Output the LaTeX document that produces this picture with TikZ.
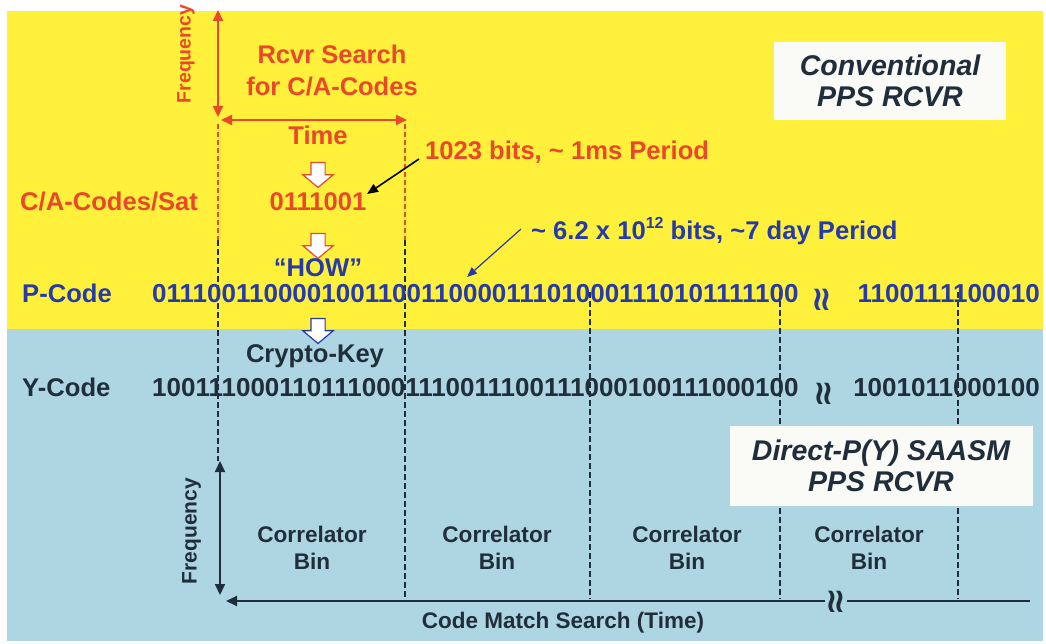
\documentclass[tikz,border=0pt]{standalone}
\usepackage{fontspec}
\setmainfont{Liberation Sans}
\newfontfamily\djv{DejaVu Sans}
\usetikzlibrary{arrows.meta,shapes.arrows}
\definecolor{bgyellow}{RGB}{255,240,60}
\definecolor{bgblue}{RGB}{174,213,226}
\definecolor{redc}{RGB}{234,72,42}
\definecolor{bluec}{RGB}{38,58,170}
\definecolor{darkc}{RGB}{32,46,60}
\definecolor{boxc}{RGB}{250,250,246}
\newcommand\sqq{≀\kern-0.14em≀}
\begin{document}
\begin{tikzpicture}[x=1pt,y=-1pt,
  txt/.style={inner sep=0pt, text height=0.72em, text depth=0pt, font=\bfseries\fontsize{25.6}{30}\selectfont},
  redtxt/.style={txt,text=redc},
  bluetxt/.style={txt,text=bluec},
  darktxt/.style={txt,text=darkc},
  codetxt/.style={inner sep=0pt, text height=0.72em, text depth=0pt, font=\bfseries\fontsize{26}{30}\selectfont},
  multitxt/.style={inner sep=0pt, align=center},
  bintxt/.style={multitxt, text=darkc, font=\bfseries\fontsize{22.6}{27}\selectfont},
  boxnode/.style={fill=boxc, inner sep=0pt, align=center, text=darkc, font=\bfseries\itshape\fontsize{28.5}{31}\selectfont},
  harrow/.style={single arrow, shape border rotate=270, fill=white, line width=1.2pt,
    inner sep=6.5pt, minimum height=25pt, single arrow head extend=8pt, single arrow tip angle=100},
  rdash/.style={draw=redc, line width=1.3pt, dash pattern=on 5pt off 3pt},
  ddash/.style={draw=darkc, line width=1.3pt, dash pattern=on 6pt off 3pt},
  raxis/.style={draw=redc, line width=2pt},
  daxis/.style={draw=darkc, line width=2pt},
  tip/.tip={Triangle[length=11pt,width=10pt]},
  squig/.style={inner sep=0pt, font=\djv\bfseries\fontsize{34}{34}\selectfont}
]
\useasboundingbox (0,0) rectangle (1046,644);
\fill[white] (0,0) rectangle (1046,644);
\fill[bgyellow] (7,11) rectangle (1043,329);
\fill[bgblue] (7,329) rectangle (1043,641);

% coordinates
\coordinate (rTop) at (218,10);
\coordinate (rOv) at (218,117);
\coordinate (rOh) at (221,120);
\coordinate (rRight) at (407,120);
\coordinate (c1t) at (218,124);
\coordinate (c1m) at (218,240);
\coordinate (c1b) at (218,461);
\coordinate (c2t) at (405,124);
\coordinate (c2m) at (405,240);
\coordinate (c2b) at (405,599);
\coordinate (c3t) at (590,292);
\coordinate (c3b) at (590,599);
\coordinate (c4t) at (780,292);
\coordinate (c4b) at (780,599);
\coordinate (c5t) at (958,292);
\coordinate (c5b) at (958,599);
\coordinate (bTop) at (220,461);
\coordinate (bBot) at (220,595);
\coordinate (bLeft) at (226,601);
\coordinate (bRight) at (1030,601);

% dashed column lines
\draw[rdash] (c1t) -- (c1m);
\draw[rdash] (c2t) -- (c2m);
\draw[ddash] (c1m) -- (c1b);
\draw[ddash] (c2m) -- (c2b);
\draw[ddash] (c3t) -- (c3b);
\draw[ddash] (c4t) -- (c4b);
\draw[ddash] (c5t) -- (c5b);

% red axes
\draw[raxis,{tip}-{tip}] (rOv) -- (rTop);
\draw[raxis,{tip}-{tip}] (rOh) -- (rRight);
\node[redtxt, rotate=90, font=\bfseries\fontsize{19.5}{20}\selectfont] (freq1) at (187,54) {Frequency};
\node[multitxt, text=redc, font=\bfseries\fontsize{25.5}{32}\selectfont] (rcvr) at (332,71) {Rcvr Search\\for C/A-Codes};

% upper chain
\node[redtxt] (time) at (318,141) {Time};
\node[harrow, draw=redc] (ar1) at (318,172) {};
\node[redtxt] (ca) at (318,207) {0111001};
\node[redtxt, anchor=west] (calab) at (20,207) {C/A-Codes/Sat};
\node[harrow, draw=redc] (ar2) at (318,243) {};
\node[bluetxt] (how) at (318,273) {“HOW”};
\node[harrow, draw=bluec] (ar3) at (318,328) {};
\node[darktxt] (crypto) at (315,359) {Crypto-Key};

% annotations
\node[redtxt, anchor=west] (bits1) at (425,156) {1023 bits, \textasciitilde{} 1ms Period};
\coordinate (a1s) at (419,159);
\coordinate (a1e) at (367,194);
\draw[draw=black, line width=1.6pt, -{Triangle[length=11pt,width=9pt]}] (a1s) -- (a1e);
\node[bluetxt, anchor=west] (bits2) at (531,236) {\textasciitilde{} 6.2 x 10\raisebox{0.42em}{\fontsize{16}{16}\selectfont 12} bits, \textasciitilde7 day Period};
\coordinate (a2s) at (521,229);
\coordinate (a2e) at (467,277);
\draw[draw=bluec, line width=1.2pt, -{Triangle[length=10pt,width=8pt]}] (a2s) -- (a2e);

% code rows
\node[bluetxt, anchor=west] (plab) at (22,299) {P-Code};
\node[codetxt, text=bluec, anchor=west] (pcode) at (152,299) {0111001100001001100110000111010001110101111100};
\node[squig, text=bluec] (psq) at (822,300) {\sqq};
\node[codetxt, text=bluec, anchor=east] (pcode2) at (1040,299) {1100111100010};
\node[darktxt, anchor=west] (ylab) at (22,393) {Y-Code};
\node[codetxt, text=darkc, anchor=west] (ycode) at (152,393) {1001110001101110001110011100111000100111000100};
\node[squig, text=darkc] (ysq) at (824,394) {\sqq};
\node[codetxt, text=darkc, anchor=east] (ycode2) at (1040,393) {1001011000100};

% boxes
\node[boxnode, minimum width=232pt, minimum height=78pt] (conv) at (890,81) {Conventional\\PPS RCVR};
\node[boxnode, minimum width=303pt, minimum height=80pt] (saasm) at (881,466) {Direct-P(Y) SAASM\\PPS RCVR};

% bottom axes
\draw[daxis,{tip}-{tip}] (bBot) -- (bTop);
\draw[daxis,{tip}-] (bLeft) -- (bRight);
\node[squig, text=darkc, fill=bgblue, inner xsep=1pt] (axsq) at (836,602) {\sqq};
\node[darktxt, rotate=90, font=\bfseries\fontsize{21}{22}\selectfont] (freq2) at (193,531) {Frequency};
\node[bintxt] (bin1) at (312,548) {Correlator\\Bin};
\node[bintxt] (bin2) at (497,548) {Correlator\\Bin};
\node[bintxt] (bin3) at (687,548) {Correlator\\Bin};
\node[bintxt] (bin4) at (869,548) {Correlator\\Bin};
\node[darktxt, font=\bfseries\fontsize{22.5}{26}\selectfont] (cms) at (563,625) {Code Match Search (Time)};
\end{tikzpicture}
\end{document}
